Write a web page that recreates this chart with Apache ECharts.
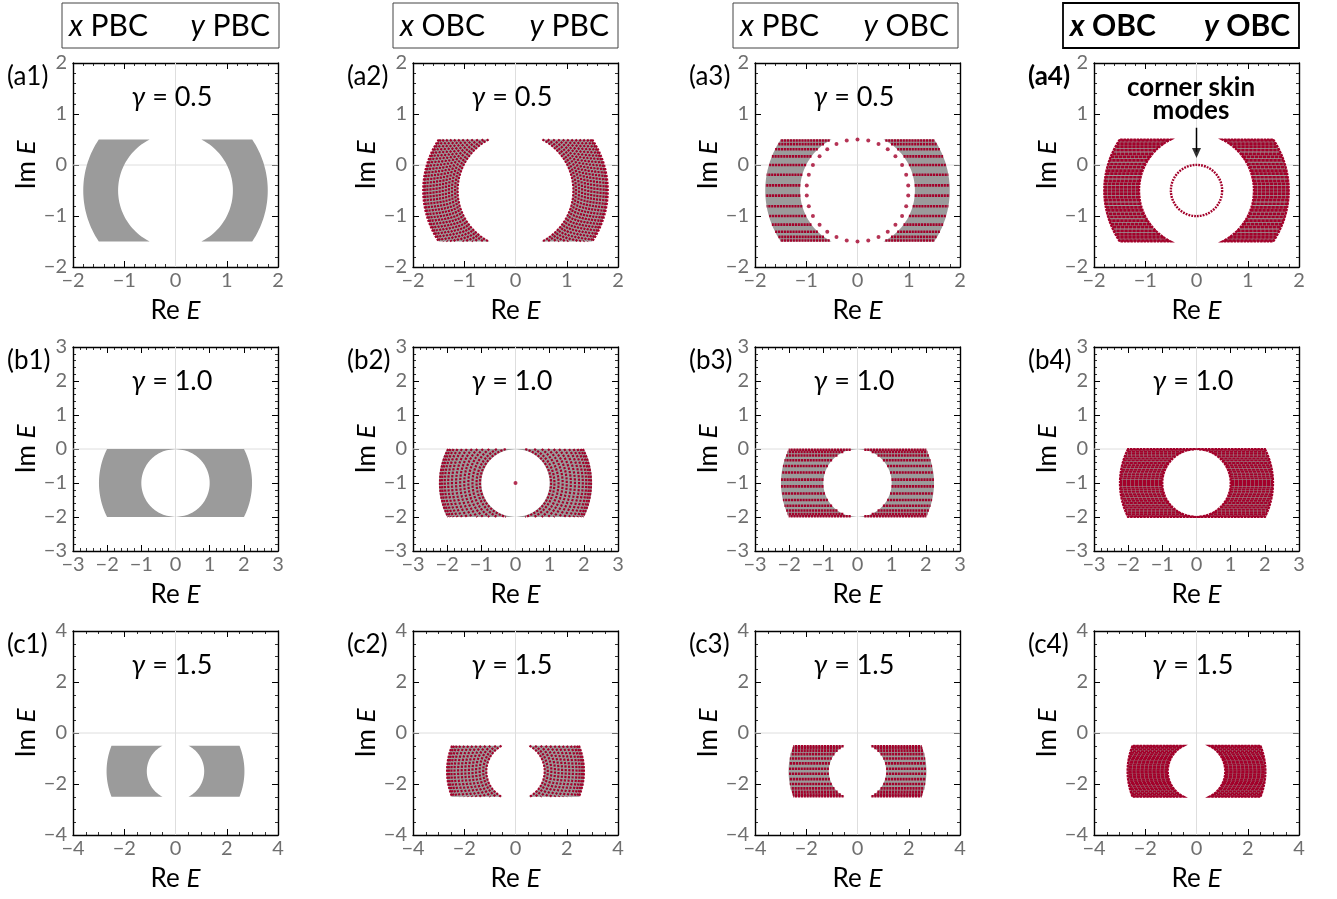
<!DOCTYPE html>
<html><head><meta charset="utf-8">
<script src="https://cdn.jsdelivr.net/npm/echarts@6/dist/echarts.min.js"></script>
<style>html,body{margin:0;padding:0;background:#fff}#c{width:1337px;height:899px}</style>
</head><body><div id="c"></div>
<script>
// ================= data =================
const columnBoundary = [['PBC','PBC'],['OBC','PBC'],['PBC','OBC'],['OBC','OBC']];
const rowLetters = ['a','b','c'];
const gammaLabels = ['0.5','1.0','1.5'];
const axisLimits = [2, 3, 4];
const axisSteps = [1, 1, 2];
// spectral region: annulus centred at (0, bandCenterIm) cut to |Im - centre| <= half height
const bandCenterIm = [-0.5, -1.0, -1.5];
const bandHalfHeight = [1.0, 1.0, 1.0];
const innerRadius = [1.12, 1.00, 1.12];
const outerRadius = [1.80, 2.24, 2.69];
// x OBC, y PBC : radii of the arcs of eigenvalues
const arcRadiiA = [1.13, 1.18, 1.24, 1.30, 1.36, 1.42, 1.48, 1.54, 1.60, 1.66, 1.72, 1.77, 1.80];
const arcRadiiB = [1.04, 1.14, 1.26, 1.38, 1.50, 1.62, 1.74, 1.86, 1.97, 2.07, 2.15, 2.21];
const arcRadiiC = [1.14, 1.26, 1.40, 1.54, 1.68, 1.82, 1.96, 2.10, 2.24, 2.38, 2.50, 2.60, 2.67];
// x PBC, y OBC : Im offsets (from band centre) of the rows of eigenvalues
const rowOffsetsYOBC = [0.98, 0.91, 0.81, 0.67, 0.50, 0.31, 0.10, -0.10, -0.31, -0.50, -0.67, -0.81, -0.91, -0.98];
// x OBC, y OBC : Im offsets of the dense rows
const rowOffsetsBoth = [0.98, 0.92, 0.86, 0.79, 0.72, 0.66, 0.59, 0.52, 0.46, 0.39, 0.33, 0.26, 0.19, 0.13, 0.06, 0.00,
  -0.06, -0.13, -0.19, -0.26, -0.33, -0.39, -0.46, -0.52, -0.59, -0.66, -0.72, -0.79, -0.86, -0.92, -0.98];
// (a3) isolated eigenvalues on a circle
const a3CircleRe = [0, 0.21, 0.41, 0.59, 0.74, 0.87, 0.95, 0.99, 0.99, 0.95, 0.87, 0.74, 0.59, 0.41, 0.21,
  0, -0.21, -0.41, -0.59, -0.74, -0.87, -0.95, -0.99, -0.99, -0.95, -0.87, -0.74, -0.59, -0.41, -0.21];
const a3CircleIm = [0.50, 0.48, 0.41, 0.31, 0.17, 0.00, -0.19, -0.40, -0.60, -0.81, -1.00, -1.17, -1.31, -1.41, -1.48,
  -1.50, -1.48, -1.41, -1.31, -1.17, -1.00, -0.81, -0.60, -0.40, -0.19, 0.00, 0.17, 0.31, 0.41, 0.48];
// (a4) corner skin modes ring: centre Re, centre Im, radius
const a4Ring = [0, -0.5, 0.5];
// (b2) isolated eigenvalue
const b2Point = [0, -1.0];
// (a4) annotation arrow: start and tip
const a4ArrowStart = [0, 0.73];
const a4ArrowTip = [0, 0.14];

// ================= layout / style =================
const colLeft = [73, 413, 755, 1094], rowTop = [63, 347, 631], PW = 205, PH = 204;
const headerBox = [[62, 217], [393, 225], [733, 225], [1063, 236]];
const RED = '#a3002a', GRAY = '#9b9b9b';
const FONT = 'Lato, "Open Sans", "DejaVu Sans", sans-serif';
const arcRadii = [arcRadiiA, arcRadiiB, arcRadiiC];

const minus = v => (v < 0 ? '\u2212' + Math.abs(v) : String(v));

function edgeX(R, dy) { return Math.sqrt(Math.max(R * R - dy * dy, 0)); }

function regionPts(r, side, api) {
  const cy = bandCenterIm[r], h = bandHalfHeight[r], Ri = innerRadius[r], Ro = outerRadius[r];
  const pts = [], N = 60;
  for (let k = 0; k <= N; k++) { const dy = h - 2 * h * k / N; pts.push(api.coord([side * edgeX(Ro, dy), cy + dy])); }
  for (let k = N; k >= 0; k--) { const dy = h - 2 * h * k / N; pts.push(api.coord([side * edgeX(Ri, dy), cy + dy])); }
  return pts;
}

function grayRender(r) {
  return (params, api) => ({ type: 'polygon', shape: { points: regionPts(r, api.value(0), api) }, style: { fill: GRAY, stroke: null } });
}

function arcsRender(r) {
  return (params, api) => {
    const side = api.value(0), cy = bandCenterIm[r], h = bandHalfHeight[r];
    const children = arcRadii[r].map(R => {
      const pts = [];
      for (let k = 0; k <= 40; k++) { const dy = h - 2 * h * k / 40; pts.push(api.coord([side * edgeX(R, dy), cy + dy])); }
      return { type: 'polyline', shape: { points: pts }, style: { stroke: RED, lineWidth: 2.2, lineDash: [2.2, 1.3], fill: null } };
    });
    return { type: 'group', children };
  };
}

function rowsRender(r, offsets, width, dash, outline) {
  return (params, api) => {
    const side = api.value(0), cy = bandCenterIm[r], Ri = innerRadius[r], Ro = outerRadius[r];
    const children = offsets.map(dy => {
      const a = api.coord([side * edgeX(Ri, dy), cy + dy]), b = api.coord([side * edgeX(Ro, dy), cy + dy]);
      return { type: 'line', shape: { x1: a[0], y1: a[1], x2: b[0], y2: b[1] }, style: { stroke: RED, lineWidth: width, lineDash: dash } };
    });
    if (outline) children.push({ type: 'polygon', shape: { points: regionPts(r, side, api) }, style: { fill: null, stroke: RED, lineWidth: 2.2, lineDash: [2.5, 0.8] } });
    return { type: 'group', children };
  };
}

function zeroRender(L) {
  return (params, api) => {
    const a = api.coord([-L, 0]), b = api.coord([L, 0]), c = api.coord([0, -L]), d = api.coord([0, L]);
    const st = { stroke: '#dedede', lineWidth: 1 };
    return { type: 'group', children: [
      { type: 'line', shape: { x1: a[0], y1: a[1], x2: b[0], y2: b[1] }, style: st },
      { type: 'line', shape: { x1: c[0], y1: c[1], x2: d[0], y2: d[1] }, style: st }] };
  };
}

const grids = [], xAxes = [], yAxes = [], series = [], graphics = [];

// headers
for (let c = 0; c < 4; c++) {
  const [bx, bw] = headerBox[c];
  const bold = c === 3;
  graphics.push({ type: 'rect', shape: { x: bx, y: 3, width: bw, height: 45 },
    style: { fill: '#fff', stroke: bold ? '#000' : '#444', lineWidth: bold ? 1.8 : 1 } });
  const fw = bold ? 'bold' : 'normal';
  const rich = { i: { fontStyle: 'italic', fontSize: 30, fontFamily: FONT, fontWeight: fw, fill: '#000' },
                 n: { fontSize: 30, fontFamily: FONT, fontWeight: fw, fill: '#000' } };
  graphics.push({ type: 'text', x: bx + 7, y: 26, style: { text: '{i|x}{n| ' + columnBoundary[c][0] + '}', rich,
    fontSize: 30, fontFamily: FONT, fontWeight: fw, align: 'left', verticalAlign: 'middle' } });
  graphics.push({ type: 'text', x: bx + bw - 9, y: 26, style: { text: '{i|y}{n| ' + columnBoundary[c][1] + '}', rich,
    fontSize: 30, fontFamily: FONT, fontWeight: fw, align: 'right', verticalAlign: 'middle' } });
}

for (let r = 0; r < 3; r++) {
  for (let c = 0; c < 4; c++) {
    const gi = grids.length;
    grids.push({ left: colLeft[c], top: rowTop[r], width: PW, height: PH, containLabel: false, outerBoundsMode: 'none' });
    const L = axisLimits[r], step = axisSteps[r];
    const common = {
      type: 'value', gridIndex: gi, min: -L, max: L, interval: step, scale: false,
      splitLine: { show: false },
      axisLine: { show: true, onZero: false, lineStyle: { color: '#000', width: 1.4 } },
      axisTick: { show: true, inside: true, length: 6, lineStyle: { color: '#000', width: 1 } },
      minorTick: { show: true, splitNumber: step === 2 ? 4 : 5, length: 3, lineStyle: { color: '#000', width: 0.8 } },
      minorSplitLine: { show: false }
    };
    const labelStyle = { show: true, color: '#6f6f6f', fontSize: 20, fontFamily: FONT, formatter: minus };
    const nameRich = { n: { fontSize: 26, fontFamily: FONT, color: '#000' }, e: { fontSize: 26, fontFamily: FONT, fontStyle: 'italic', color: '#000' } };
    xAxes.push(Object.assign({}, common, { position: 'bottom', axisLabel: Object.assign({ margin: 4 }, labelStyle),
      name: '{n|Re }{e|E}', nameLocation: 'middle', nameGap: 31, nameTextStyle: { fontSize: 26, fontFamily: FONT, color: '#000', rich: nameRich } }));
    xAxes.push(Object.assign({}, common, { position: 'top', axisLabel: { show: false } }));
    yAxes.push(Object.assign({}, common, { position: 'left', axisLabel: Object.assign({ margin: 6 }, labelStyle),
      name: '{n|Im }{e|E}', nameLocation: 'middle', nameRotate: 90, nameGap: 31, nameTextStyle: { fontSize: 26, fontFamily: FONT, color: '#000', rich: nameRich } }));
    yAxes.push(Object.assign({}, common, { position: 'right', axisLabel: { show: false } }));
    const xi = 2 * gi, yi = 2 * gi;
    const base = { xAxisIndex: xi, yAxisIndex: yi, silent: true, animation: false };
    const sides = [[-1, bandCenterIm[r]], [1, bandCenterIm[r]]];

    series.push(Object.assign({ type: 'custom', z: 1, data: [[0, 0]], renderItem: zeroRender(L), encode: { x: 0, y: 1 } }, base));
    series.push(Object.assign({ type: 'custom', z: 2, data: sides, renderItem: grayRender(r), encode: { x: 0, y: 1 } }, base));
    if (c === 1) series.push(Object.assign({ type: 'custom', z: 3, data: sides, renderItem: arcsRender(r), encode: { x: 0, y: 1 } }, base));
    if (c === 2) series.push(Object.assign({ type: 'custom', z: 3, data: sides, renderItem: rowsRender(r, rowOffsetsYOBC, 2.6, [2.2, 0.7], false), encode: { x: 0, y: 1 } }, base));
    if (c === 3) series.push(Object.assign({ type: 'custom', z: 3, data: sides, renderItem: rowsRender(r, rowOffsetsBoth, [2.7, 2.0, 1.8][r], [3.5, 0.5], true), encode: { x: 0, y: 1 } }, base));

    if (r === 0 && c === 2) {
      series.push(Object.assign({ type: 'scatter', z: 4, symbol: 'circle', symbolSize: 4, itemStyle: { color: RED },
        data: a3CircleRe.map((v, i) => [v, a3CircleIm[i]]) }, base));
    }
    if (r === 1 && c === 1) {
      series.push(Object.assign({ type: 'scatter', z: 4, symbol: 'circle', symbolSize: 4, itemStyle: { color: RED }, data: [b2Point] }, base));
    }
    if (r === 0 && c === 3) {
      series.push(Object.assign({ type: 'custom', z: 4, data: [[a4Ring[0], a4Ring[1]]], encode: { x: 0, y: 1 },
        renderItem: (p, api) => {
          const ctr = api.coord([api.value(0), api.value(1)]);
          const rad = api.size([a4Ring[2], 0])[0];
          return { type: 'circle', shape: { cx: ctr[0], cy: ctr[1], r: rad }, style: { fill: null, stroke: RED, lineWidth: 2.4, lineDash: [1.8, 1.1] } };
        } }, base));
      series.push(Object.assign({ type: 'line', z: 5, symbol: 'none', lineStyle: { color: '#000', width: 1.5 },
        data: [a4ArrowStart, [a4ArrowTip[0], a4ArrowTip[1] + 0.12]] }, base));
      series.push(Object.assign({ type: 'scatter', z: 5, symbol: 'triangle', symbolRotate: 180, symbolSize: [9, 10],
        itemStyle: { color: '#000' }, data: [[a4ArrowTip[0], a4ArrowTip[1] + 0.095]] }, base));
    }

    // panel label
    const bold = c === 3 && r === 0;
    graphics.push({ type: 'text', x: colLeft[c] - 66, y: rowTop[r] + 14,
      style: { text: '(' + rowLetters[r] + (c + 1) + ')', fontSize: 26, fontFamily: FONT, fontWeight: bold ? 'bold' : 'normal',
        fill: '#000', align: 'left', verticalAlign: 'middle' } });
    // gamma label (not in a4, where the annotation sits)
    if (!(r === 0 && c === 3)) {
      graphics.push({ type: 'text', x: colLeft[c] + 99, y: rowTop[r] + 34, z: 10,
        style: { text: '{g|\u03b3}{n| = ' + gammaLabels[r] + '}', align: 'center', verticalAlign: 'middle', fontSize: 27, fontFamily: FONT,
          rich: { g: { fontSize: 27, fontFamily: FONT, fontStyle: 'italic', fill: '#000' }, n: { fontSize: 27, fontFamily: FONT, fill: '#000' } } } });
    }
  }
}

// annotation in (a4)
graphics.push({ type: 'text', x: 1191, y: 88, z: 10, style: { text: 'corner skin', fontSize: 26, fontWeight: 'bold', fontFamily: FONT, fill: '#000', align: 'center', verticalAlign: 'middle' } });
graphics.push({ type: 'text', x: 1191, y: 111, z: 10, style: { text: 'modes', fontSize: 26, fontWeight: 'bold', fontFamily: FONT, fill: '#000', align: 'center', verticalAlign: 'middle' } });

const chart = echarts.init(document.getElementById('c'), null, { renderer: 'canvas' });
chart.setOption({
  backgroundColor: '#fff',
  animation: false,
  grid: grids, xAxis: xAxes, yAxis: yAxes, series: series, graphic: graphics
});
</script></body></html>
